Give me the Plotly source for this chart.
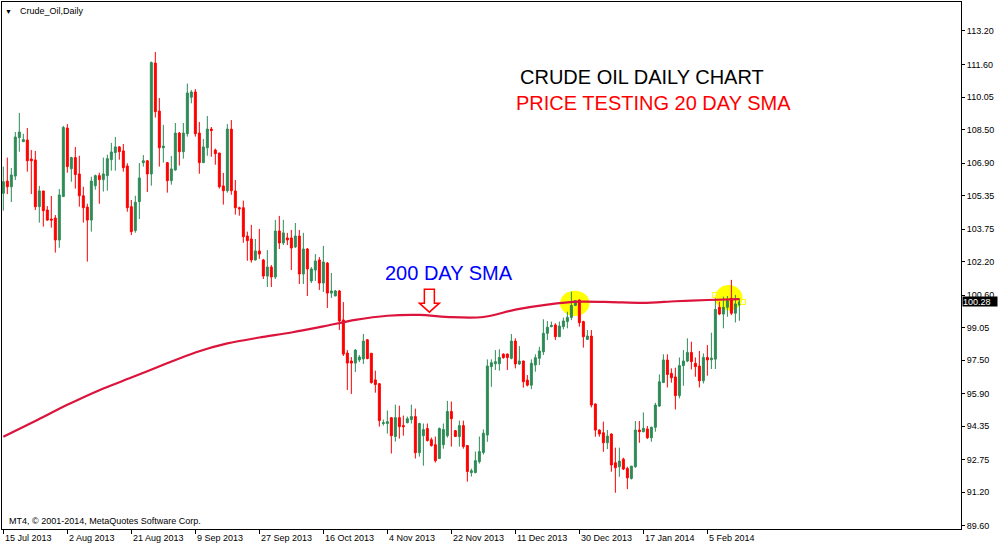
import pandas as pd
import plotly.graph_objects as go

# ------------------------------- DATA -------------------------------
# daily bars as MT4 shows them: Sunday sessions included, Saturdays skipped
open_ = [105.46, 106.04, 105.77, 106.28, 108.11, 107.92, 108.00, 107.09, 107.05, 104.82,
         105.57, 104.66, 104.23, 104.28, 103.23, 105.30, 108.57, 106.63, 107.16, 106.38,
         105.34, 104.80, 104.18, 105.82, 106.30, 106.11, 106.30, 107.06, 107.40, 107.67,
         107.48, 106.76, 104.82, 103.68, 105.06, 106.92, 107.01, 106.38, 111.67, 109.38,
         107.63, 106.92, 106.06, 106.57, 108.33, 107.44, 108.30, 110.04, 110.29, 108.33,
         106.92, 107.63, 108.52, 107.52, 107.38, 105.81, 105.58, 108.52, 105.57, 104.77,
         104.77, 103.42, 103.28, 102.28, 102.71, 102.28, 101.51, 101.94, 101.47, 103.66,
         103.09, 103.33, 103.33, 102.90, 103.42, 101.61, 102.80, 101.28, 101.80, 102.28,
         101.18, 102.13, 100.70, 100.56, 100.80, 99.42, 97.84, 97.46, 97.36, 97.51,
         97.56, 98.47, 97.83, 96.56, 96.38, 94.48, 94.48, 94.76, 93.86, 94.76,
         94.38, 94.52, 94.67, 94.81, 93.09, 93.90, 94.24, 93.71, 93.47, 92.81,
         93.47, 93.90, 95.05, 94.14, 93.86, 94.38, 93.43, 92.14, 92.14, 92.66,
         93.10, 93.93, 97.19, 97.33, 97.33, 97.79, 97.79, 97.59, 98.41, 97.32,
         97.46, 96.55, 96.31, 97.27, 97.59, 97.90, 98.78, 99.10, 99.18, 98.62,
         99.10, 99.34, 99.54, 100.11, 100.37, 99.34, 98.49, 98.65, 95.41, 94.17,
         94.04, 93.56, 93.98, 92.61, 92.42, 92.78, 92.34, 91.86, 92.42, 94.17,
         94.09, 94.22, 93.80, 94.30, 95.31, 96.43, 97.51, 96.87, 96.70, 95.81,
         97.24, 97.46, 97.87, 97.35, 97.22, 96.52, 97.63, 97.52, 97.55, 100.02,
         99.70, 100.02, 100.45, 99.74, 100.13]
high = [106.73, 107.16, 106.66, 108.38, 109.29, 108.29, 108.57, 107.52, 107.48, 105.81,
        105.57, 104.85, 105.33, 104.42, 105.66, 108.67, 108.76, 107.20, 107.67, 107.25,
        105.77, 104.96, 106.25, 106.35, 106.44, 107.16, 107.30, 107.86, 108.14, 107.71,
        107.81, 106.89, 105.14, 105.34, 106.90, 107.28, 107.05, 111.74, 112.20, 110.00,
        108.72, 106.95, 107.24, 108.81, 108.38, 108.81, 110.69, 110.38, 110.43, 108.86,
        108.05, 109.14, 108.62, 107.59, 107.38, 106.43, 108.76, 108.95, 106.09, 104.82,
        105.11, 103.63, 103.95, 103.28, 103.76, 102.33, 102.75, 102.04, 104.19, 104.38,
        104.19, 103.57, 103.71, 104.04, 103.71, 103.57, 102.85, 101.94, 102.56, 102.42,
        102.95, 102.18, 101.66, 100.85, 100.85, 100.27, 97.98, 97.65, 98.03, 97.75,
        98.75, 98.51, 97.83, 97.00, 96.38, 94.67, 95.10, 94.76, 95.38, 95.33,
        94.86, 94.81, 95.38, 95.19, 94.52, 94.48, 94.48, 93.81, 93.86, 94.29,
        94.48, 95.56, 95.53, 94.17, 94.62, 94.62, 93.43, 92.33, 93.14, 93.86,
        94.20, 97.54, 97.54, 97.98, 98.02, 97.82, 97.82, 98.75, 98.54, 98.17,
        97.48, 96.79, 97.54, 97.78, 98.14, 99.45, 99.37, 99.34, 99.26, 99.34,
        99.53, 99.81, 100.77, 100.37, 100.40, 99.38, 98.94, 98.94, 95.44, 94.20,
        94.57, 94.17, 94.01, 93.33, 93.33, 92.85, 92.42, 92.45, 94.60, 94.60,
        95.01, 94.36, 94.33, 95.47, 96.82, 97.78, 97.78, 97.11, 97.14, 97.63,
        97.98, 98.54, 98.38, 97.63, 97.94, 97.82, 98.22, 98.81, 100.45, 100.29,
        100.53, 100.56, 101.33, 100.61, 100.45]
low = [104.63, 105.42, 105.04, 106.09, 107.44, 107.90, 106.49, 105.42, 104.66, 104.06,
       103.87, 104.15, 103.82, 102.63, 102.86, 105.30, 106.44, 106.01, 105.68, 104.82,
       104.06, 102.20, 103.63, 105.63, 104.96, 105.54, 105.58, 106.54, 106.54, 107.06,
       106.49, 104.58, 103.47, 103.58, 104.23, 106.73, 105.52, 105.82, 109.07, 106.73,
       106.92, 105.49, 105.87, 106.54, 106.78, 107.11, 108.16, 109.75, 108.16, 106.39,
       106.92, 107.25, 107.20, 106.82, 105.68, 104.92, 105.49, 105.39, 104.44, 104.39,
       103.10, 102.24, 102.15, 102.25, 102.33, 101.37, 100.99, 100.99, 101.37, 102.80,
       102.99, 102.99, 101.80, 102.85, 101.13, 101.13, 100.56, 101.18, 101.28, 100.85,
       100.75, 99.99, 100.47, 100.56, 98.94, 97.70, 96.08, 95.89, 96.94, 97.41,
       97.32, 97.54, 96.38, 95.95, 94.33, 94.38, 94.00, 93.05, 93.62, 93.76,
       93.90, 94.49, 94.48, 92.81, 92.90, 92.47, 93.62, 93.38, 92.62, 92.81,
       93.28, 93.81, 93.38, 93.86, 93.38, 93.28, 91.71, 91.95, 92.11, 92.57,
       93.00, 93.61, 96.23, 97.03, 97.00, 97.57, 97.03, 97.54, 97.11, 97.27,
       96.19, 96.25, 96.12, 96.95, 97.27, 97.75, 98.46, 99.07, 98.46, 98.62,
       98.97, 99.02, 99.41, 100.08, 99.10, 98.10, 98.46, 95.25, 93.85, 93.85,
       93.13, 93.26, 92.18, 91.18, 91.94, 92.26, 91.35, 91.81, 92.37, 93.56,
       94.06, 93.74, 93.61, 94.09, 95.28, 96.43, 96.20, 96.43, 95.15, 95.68,
       96.28, 97.41, 97.06, 96.71, 96.20, 96.39, 96.76, 97.08, 97.08, 99.65,
       99.02, 99.57, 99.65, 99.30, 99.38]
close = [106.01, 105.77, 106.33, 108.14, 108.38, 108.02, 107.01, 107.01, 104.82, 105.57,
         104.63, 104.18, 104.18, 103.23, 105.38, 108.60, 106.73, 107.16, 106.35, 105.34,
         104.77, 104.18, 106.04, 106.30, 106.11, 106.38, 107.11, 107.43, 107.67, 107.44,
         106.68, 104.77, 103.63, 105.03, 106.19, 107.01, 106.38, 111.69, 109.35, 107.63,
         107.71, 106.06, 106.62, 108.33, 107.44, 108.33, 110.24, 110.29, 108.30, 106.92,
         107.67, 108.52, 108.45, 107.35, 105.77, 105.58, 108.52, 105.58, 104.77, 104.72,
         103.39, 103.20, 102.28, 102.71, 102.56, 101.51, 101.94, 101.47, 103.66, 103.09,
         103.57, 103.23, 102.85, 103.42, 101.61, 102.80, 101.85, 101.85, 102.23, 101.18,
         102.18, 100.70, 100.80, 100.80, 99.37, 97.79, 97.36, 97.36, 97.98, 97.65,
         98.41, 97.58, 96.43, 96.34, 94.62, 94.52, 94.57, 93.90, 94.76, 94.33,
         94.33, 94.71, 94.81, 93.09, 94.48, 94.19, 93.67, 93.43, 92.71, 94.24,
         94.19, 95.05, 94.71, 93.86, 94.38, 93.38, 92.19, 92.23, 92.71, 93.14,
         94.02, 97.22, 97.38, 97.43, 97.63, 97.62, 97.63, 98.41, 97.32, 97.46,
         96.47, 96.31, 97.35, 97.62, 97.94, 98.78, 99.07, 99.16, 98.62, 99.13,
         99.37, 99.54, 100.11, 100.34, 99.29, 98.62, 98.65, 95.36, 94.17, 93.98,
         93.56, 93.88, 92.50, 92.37, 92.69, 92.31, 91.89, 92.45, 94.17, 94.09,
         94.25, 93.80, 94.30, 95.36, 96.47, 97.51, 96.82, 96.66, 95.81, 97.24,
         97.46, 97.87, 97.43, 97.19, 96.52, 97.63, 97.51, 97.60, 99.92, 99.70,
         100.02, 100.34, 99.74, 100.18, 100.28]

# 200 day SMA every 8th bar
sma_bar = [0, 8, 16, 24, 32, 40, 48, 56, 64, 72, 80, 88,
           96, 104, 112, 120, 128, 136, 144, 152, 160, 168, 176, 184]
sma200 = [93.85, 94.60, 95.37, 96.07, 96.67, 97.28, 97.87, 98.30, 98.58, 98.82, 99.11, 99.42,
          99.62, 99.66, 99.55, 99.56, 99.91, 100.15, 100.29, 100.27, 100.23, 100.31, 100.37, 100.41]

y_ticks = [89.60, 91.20, 92.75, 94.35, 95.90, 97.50, 99.05, 100.60,
           102.20, 103.75, 105.35, 106.90, 108.50, 110.05, 111.60, 113.20]
x_tick_dates = ["2013-07-15", "2013-08-02", "2013-08-21", "2013-09-09", "2013-09-27", "2013-10-16",
                "2013-11-04", "2013-11-22", "2013-12-11", "2013-12-30", "2014-01-17", "2014-02-05"]
x_tick_labels = ["15 Jul 2013", "2 Aug 2013", "21 Aug 2013", "9 Sep 2013", "27 Sep 2013", "16 Oct 2013",
                 "4 Nov 2013", "22 Nov 2013", "11 Dec 2013", "30 Dec 2013", "17 Jan 2014", "5 Feb 2014"]
last_price = 100.28

# ------------------------------- PRE PROCESSING -------------------------------
days = pd.date_range("2013-07-15", "2014-03-31")
days = days[days.dayofweek != 5][:len(close)]
bars = list(range(len(close)))
bar_of = {d.strftime("%Y-%m-%d"): i for i, d in enumerate(days)}
x_tick_bars = [bar_of[d] for d in x_tick_dates]

GREEN = "#2E8B57"
RED = "#FF0000"
FONT = "Liberation Sans"

# plot area in pixels: x 2..961, y 2..529
def paper(px, py):
    return (px - 2) / 959, (529 - py) / 527

# ------------------------------- VISUALIZATION -------------------------------
fig = go.Figure()

fig.add_trace(go.Scatter(
    x=sma_bar, y=sma200, mode="lines",
    line=dict(color="#DC143C", width=2.2, shape="spline", smoothing=0.8),
    hoverinfo="skip"
))

fig.add_trace(go.Candlestick(
    x=bars, open=open_, high=high, low=low, close=close,
    increasing=dict(line=dict(color=GREEN, width=1), fillcolor=GREEN),
    decreasing=dict(line=dict(color=RED, width=1), fillcolor=RED),
    whiskerwidth=0,
    hovertext=[d.strftime("%d %b %Y") for d in days]
))

# yellow highlight circles (behind the candles)
for cx, cy, rx, ry in [(142.85, 100.21, 14.7, 12.7), (181.35, 100.48, 13.7, 12.8)]:
    fig.add_shape(type="circle", xref="x", yref="y", xsizemode="pixel", ysizemode="pixel",
                  xanchor=cx, yanchor=cy, x0=-rx, x1=rx, y0=-ry, y1=ry,
                  fillcolor="#FFFF00", line=dict(width=0), layer="below")
for cx, cy in [(177.9, 100.61), (184.9, last_price)]:
    fig.add_shape(type="rect", xref="x", yref="y", xsizemode="pixel", ysizemode="pixel",
                  xanchor=cx, yanchor=cy, x0=-2.5, x1=2.5, y0=-2.5, y1=2.5,
                  line=dict(color="#FFFF00", width=1), layer="above")

# red hollow arrow pointing at the SMA
fig.add_shape(type="path", xref="x", yref="y", xsizemode="pixel", ysizemode="pixel",
              xanchor=106.5, yanchor=99.79,
              path="M0,0 L-10,9 L-5,9 L-5,23 L5,23 L5,9 L10,9 Z",
              line=dict(color=RED, width=1.5), fillcolor="white")

ann = []
def text(px, py, s, size=9, color="black", anchor="left"):
    x, y = paper(px, py)
    ann.append(dict(x=x, y=y, xref="paper", yref="paper", text=s, showarrow=False,
                    xanchor=anchor, yanchor="middle", font=dict(family=FONT, size=size, color=color)))

text(8.5, 11, "▼", size=7, anchor="center")
text(18, 11, "Crude_Oil,Daily")
text(7, 521, "MT4, © 2001-2014, MetaQuotes Software Corp.")
text(518, 77, "CRUDE OIL DAILY CHART", size=20)
text(514, 103, "PRICE TESTING 20 DAY SMA", size=20, color=RED)
text(383, 273, "200 DAY SMA", size=20, color="#0000FF")

for b, lab in zip(x_tick_bars, x_tick_labels):
    ann.append(dict(x=b, y=0, xref="x", yref="paper", text=lab, showarrow=False,
                    xanchor="left", yanchor="middle", xshift=0, yshift=-9,
                    font=dict(family=FONT, size=9, color="black")))

ann.append(dict(x=1, y=last_price, xref="paper", yref="y", text=f"{last_price:.2f}",
                showarrow=False, xanchor="left", yanchor="middle", xshift=1,
                bgcolor="black", width=34, height=9, align="left", borderpad=0,
                font=dict(family=FONT, size=9, color="white")))

fig.update_layout(
    template="none",
    width=1000, height=547,
    margin=dict(l=2, r=39, t=2, b=18),
    plot_bgcolor="white", paper_bgcolor="white",
    showlegend=False,
    font=dict(family=FONT, size=9, color="black"),
    annotations=ann,
    xaxis=dict(range=[-0.33, 239.4], rangeslider=dict(visible=False), showgrid=False, zeroline=False,
               showline=True, linecolor="black", linewidth=1, mirror=True,
               ticks="outside", ticklen=4, tickcolor="black", tickvals=x_tick_bars,
               showticklabels=False, automargin=False),
    yaxis=dict(range=[89.45, 114.58], side="right", showgrid=False, zeroline=False,
               showline=True, linecolor="black", linewidth=1, mirror=True,
               ticks="outside", ticklen=3, tickcolor="black",
               tickvals=y_ticks, ticktext=[f"{v:.2f}" for v in y_ticks],
               tickfont=dict(family=FONT, size=9, color="black"), automargin=False),
)

# the page body has a default 8px margin; drop it so the chart fills the window
fig.write_html("out.html", config={"displayModeBar": False},
               post_script="document.body.style.margin='0px';")
